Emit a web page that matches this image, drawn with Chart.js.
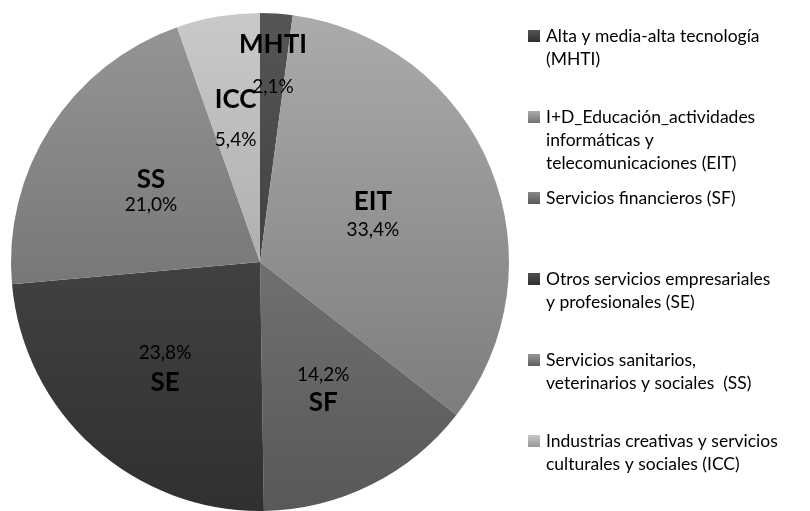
<!DOCTYPE html>
<html>
<head>
<meta charset="utf-8">
<script src="https://cdn.jsdelivr.net/npm/chart.js@4"></script>
<style>
  body { margin: 0; background: #fff; }
  #wrap { width: 810px; height: 511px; }
</style>
</head>
<body>
<div id="wrap"><canvas id="pieChart" width="810" height="511"></canvas></div>
<script>
// sector codes, shares (%) and legend text
const codes = ['MHTI', 'EIT', 'SF', 'SE', 'SS', 'ICC'];
const shares = [2.1, 33.4, 14.2, 23.8, 21.0, 5.4];
const legendLines = [
  ['Alta y media-alta tecnología', '(MHTI)'],
  ['I+D_Educación_actividades', 'informáticas y', 'telecomunicaciones (EIT)'],
  ['Servicios financieros (SF)'],
  ['Otros servicios empresariales', 'y profesionales (SE)'],
  ['Servicios sanitarios,', 'veterinarios y sociales  (SS)'],
  ['Industrias creativas y servicios', 'culturales y sociales (ICC)']
];

// grey shades: top / bottom of the vertical gradient
const shadeTop = ['#555555', '#ababab', '#888888', '#525252', '#969696', '#c9c9c9'];
const shadeBottom = ['#2f2f2f', '#727272', '#585858', '#303030', '#5e5e5e', '#979797'];

// label placement (fraction of radius, line gap, percent first?)
const labelRadius = [0.79, 0.49, 0.57, 0.57, 0.52, 0.58];
const labelGap = [42, 28, 28, 30, 25, 40];
const pctFirst = [false, false, true, true, false, false];

const gradCache = {};
function sliceColor(c) {
  const chart = c.chart;
  const area = chart.chartArea;
  const i = c.dataIndex;
  if (!area || !isFinite(area.top) || !isFinite(area.bottom)) return shadeTop[i];
  const cy = (area.top + area.bottom) / 2;
  const r = Math.min(area.right - area.left, area.bottom - area.top) / 2;
  const key = i + ':' + cy + ':' + r;
  if (!gradCache[key]) {
    const g = chart.ctx.createLinearGradient(0, cy - r, 0, cy + r);
    g.addColorStop(0, shadeTop[i]);
    g.addColorStop(1, shadeBottom[i]);
    gradCache[key] = g;
  }
  return gradCache[key];
}

const fmt = v => v.toFixed(1).replace('.', ',') + '%';

const sliceLabels = {
  id: 'sliceLabels',
  afterDatasetsDraw(chart) {
    const ctx = chart.ctx;
    const meta = chart.getDatasetMeta(0);
    ctx.save();
    ctx.fillStyle = '#000';
    ctx.textAlign = 'center';
    ctx.textBaseline = 'middle';
    meta.data.forEach((arc, i) => {
      const mid = (arc.startAngle + arc.endAngle) / 2;
      const rr = arc.outerRadius * labelRadius[i];
      const x = arc.x + Math.cos(mid) * rr;
      const y = arc.y + Math.sin(mid) * rr;
      const g = labelGap[i] / 2;
      const yName = pctFirst[i] ? y + g : y - g;
      const yPct = pctFirst[i] ? y - g : y + g;
      ctx.font = 'bold 26px Lato';
      ctx.fillText(codes[i], x, yName);
      ctx.font = '19px Lato';
      ctx.fillText(fmt(shares[i]), x, yPct);
    });
    ctx.restore();
  }
};

const sideLegend = {
  id: 'sideLegend',
  afterDraw(chart) {
    const ctx = chart.ctx;
    const x0 = 528, tx = 546, top = 36, step = 81, lh = 23;
    ctx.save();
    ctx.font = '17.5px Lato';
    ctx.textAlign = 'left';
    ctx.textBaseline = 'middle';
    legendLines.forEach((lines, i) => {
      const y = top + step * i;
      const g = ctx.createLinearGradient(0, y - 6, 0, y + 6);
      g.addColorStop(0, shadeTop[i]);
      g.addColorStop(1, shadeBottom[i]);
      ctx.fillStyle = g;
      ctx.fillRect(x0, y - 6, 12, 12);
      ctx.fillStyle = '#000';
      lines.forEach((t, k) => ctx.fillText(t, tx, y + k * lh));
    });
    ctx.restore();
  }
};

new Chart(document.getElementById('pieChart'), {
  type: 'pie',
  data: {
    labels: codes,
    datasets: [{
      data: shares,
      backgroundColor: sliceColor,
      borderWidth: 0
    }]
  },
  options: {
    responsive: false,
    animation: false,
    layout: { padding: { left: 11, right: 301, top: 13, bottom: 0 } },
    plugins: {
      legend: { display: false },
      tooltip: { enabled: false }
    }
  },
  plugins: [sliceLabels, sideLegend]
});
</script>
</body>
</html>
